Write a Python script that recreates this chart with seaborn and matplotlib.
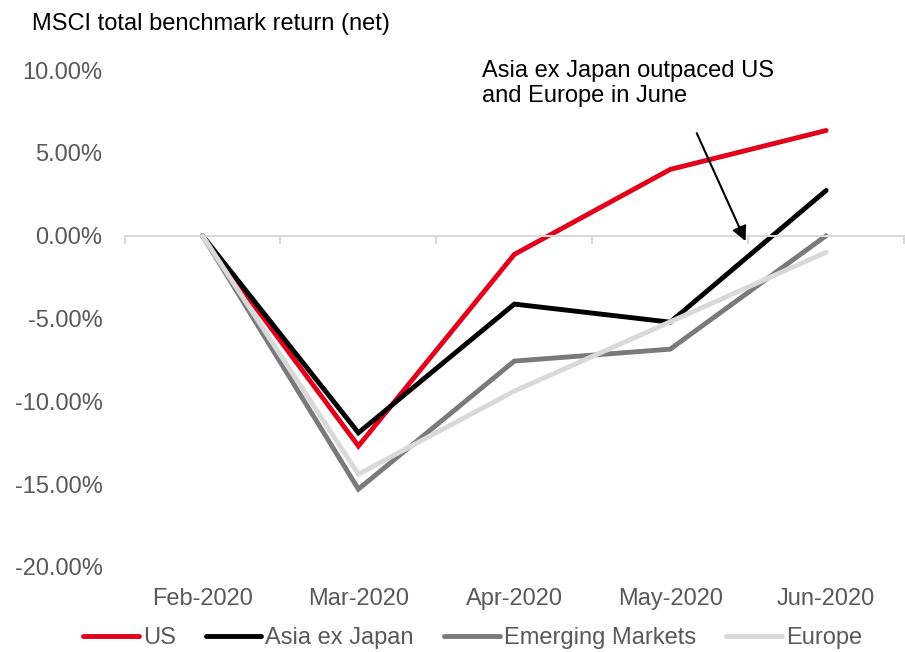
import matplotlib
matplotlib.use("Agg")
import matplotlib.pyplot as plt
from matplotlib.ticker import FuncFormatter, FixedLocator
import numpy as np
import pandas as pd
import seaborn as sns

months = ["Feb-2020", "Mar-2020", "Apr-2020", "May-2020", "Jun-2020"]
us = [0.0, -12.7, -1.13, 4.0, 6.35]
asia_ex_japan = [0.0, -11.9, -4.13, -5.22, 2.73]
emerging = [0.0, -15.3, -7.57, -6.85, 0.0]
europe = [0.0, -14.4, -9.38, -5.2, -1.0]
series_names = ["US", "Asia ex Japan", "Emerging Markets", "Europe"]
colors = ["#E2001A", "#000000", "#7A7A7A", "#D9D9D9"]
y_ticks = [10, 5, 0, -5, -10, -15, -20]

frames = []
for name, vals in zip(series_names, [us, asia_ex_japan, emerging, europe]):
    frames.append(pd.DataFrame({"month": np.arange(len(months)), "ret": vals, "index": name}))
df = pd.concat(frames, ignore_index=True)

sns.set_theme(style="white")
plt.rcParams["font.family"] = ["Liberation Sans", "DejaVu Sans"]
plt.rcParams["font.size"] = 17

fig = plt.figure(figsize=(9.05, 6.52), dpi=100)
ax = fig.add_axes([0.1376, 0.1304, 0.8614, 0.7622])

LW = 3.5
sns.lineplot(data=df, x="month", y="ret", hue="index", hue_order=series_names,
             palette=colors, linewidth=LW, ax=ax, legend=False, sort=False)
for line in ax.get_lines():
    line.set_solid_capstyle("round")
    line.set_solid_joinstyle("miter")

ax.set_xlim(-0.5, len(months) - 0.5)
ax.set_ylim(-20, 10)
ax.set_xlabel("")
ax.set_ylabel("")

ax.set_yticks(y_ticks)
ax.yaxis.set_major_formatter(FuncFormatter(lambda v, p: f"{v:.2f}%"))
ax.set_xticks(range(len(months)))
ax.set_xticklabels(months)
ax.tick_params(axis="both", which="major", length=0, labelsize=17, labelcolor="#595959")
ax.tick_params(axis="x", which="major", pad=15)
ax.tick_params(axis="y", which="major", pad=15.8)

# zero line carries the category separators as ticks
for s in ["left", "right", "bottom"]:
    ax.spines[s].set_visible(False)
ax.spines["top"].set_position(("data", 0))
ax.spines["top"].set_color("#D9D9D9")
ax.spines["top"].set_linewidth(1.5)
ax.xaxis.set_minor_locator(FixedLocator(np.arange(-0.5, len(months), 1.0)))
ax.tick_params(axis="x", which="minor", top=True, bottom=False, direction="in",
               length=6, width=1.5, color="#D9D9D9")
ax.grid(False)

fig.text(0.035, 0.963, "MSCI total benchmark return (net)", fontsize=17,
         color="#000000", ha="left", va="center")

ax.text(1.794, 10.6, "Asia ex Japan outpaced US\nand Europe in June", fontsize=17,
        color="#000000", ha="left", va="top", linespacing=1.15, clip_on=False)
ax.annotate("", xy=(3.483, -0.33), xytext=(3.17, 6.19),
            arrowprops=dict(arrowstyle="-|>", color="black", lw=1.5, mutation_scale=22,
                            shrinkA=0, shrinkB=0))

handles = [plt.Line2D([], [], color=c, lw=LW) for c in colors]
leg = fig.legend(handles, series_names, loc="center", bbox_to_anchor=(0.522, 1 - 638 / 652),
                 ncol=4, frameon=False, fontsize=17, handlelength=2.37, handletextpad=0.17,
                 columnspacing=1.27, borderpad=0, borderaxespad=0)
for t in leg.get_texts():
    t.set_color("#595959")

fig.savefig("out.png", dpi=100)
